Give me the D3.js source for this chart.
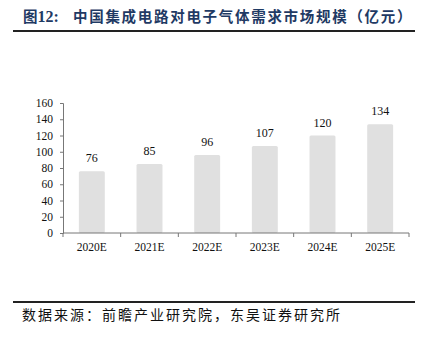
<!DOCTYPE html>
<html><head><meta charset="utf-8">
<script src="https://cdn.jsdelivr.net/npm/d3@7"></script>
<style>body{margin:0;background:#fff}</style>
</head><body>
<svg id="c" width="423" height="341"></svg>
<script>
const categories = ["2020E","2021E","2022E","2023E","2024E","2025E"];
const values = [76,85,96,107,120,134];
const yTicks = [0,20,40,60,80,100,120,140,160];
const titleText = "中国集成电路对电子气体需求市场规模（亿元）";
const sourceText = "数据来源：前瞻产业研究院，东吴证券研究所";

const svg = d3.select("#c");
const serif = "'Liberation Serif','Times New Roman',serif";
const cjk = "'Noto Sans CJK SC',sans-serif";

// title
const t = svg.append("text").attr("x",23).attr("y",22).attr("fill","#1f3a64")
  .style("font-family",cjk).style("font-size","14.5px").style("font-weight","bold");
t.append("tspan").text("图");
t.append("tspan").style("font-family",serif).style("font-size","16px").text("12:");
t.append("tspan").attr("x",73).style("letter-spacing","1.7px").text(titleText);

svg.append("line").attr("x1",13).attr("x2",415).attr("y1",31).attr("y2",31)
  .attr("stroke","#222").attr("stroke-width",2);

const x = d3.scaleBand().domain(categories).range([63,409]).paddingInner(0.55).paddingOuter(0.275);
const y = d3.scaleLinear().domain([0,160]).range([233,103]);

svg.selectAll("rect.bar").data(values).enter().append("rect")
  .attr("x",(d,i)=>x(categories[i])).attr("width",x.bandwidth())
  .attr("y",d=>y(d)).attr("height",d=>y(0)-y(d))
  .attr("rx",1.5).attr("fill","#e0e0e0");

svg.selectAll("text.val").data(values).enter().append("text")
  .attr("x",(d,i)=>x(categories[i])+x.bandwidth()/2).attr("y",d=>y(d)-9)
  .attr("text-anchor","middle").style("font-family",serif).style("font-size","12px").attr("fill","#111")
  .text(d=>d);

// y axis
const ya = svg.append("g").attr("transform","translate(63,0)")
  .call(d3.axisLeft(y).tickValues(yTicks).tickSize(3).tickPadding(7));
ya.selectAll("path,line").attr("stroke","#777");
ya.selectAll("text").style("font-family",serif).style("font-size","11.5px").attr("fill","#111");

// x axis
const xa = svg.append("g").attr("transform","translate(0,233)");
xa.append("line").attr("x1",63).attr("x2",409).attr("stroke","#777");
const bounds = categories.map(c=>x(c)-x.step()*x.paddingInner()/2).concat([409]);
xa.selectAll("line.tk").data(bounds).enter().append("line")
  .attr("x1",d=>d).attr("x2",d=>d).attr("y1",0).attr("y2",4).attr("stroke","#777");
xa.selectAll("text").data(categories).enter().append("text")
  .attr("x",d=>x(d)+x.bandwidth()/2).attr("y",18).attr("text-anchor","middle")
  .style("font-family",serif).style("font-size","11.5px").attr("fill","#111").text(d=>d);

svg.append("line").attr("x1",13).attr("x2",415).attr("y1",302).attr("y2",302)
  .attr("stroke","#222").attr("stroke-width",2);
svg.append("text").attr("x",22).attr("y",320).style("font-family",cjk).style("font-size","14px")
  .style("letter-spacing","2px").attr("fill","#111").text(sourceText);
</script>
</body></html>
